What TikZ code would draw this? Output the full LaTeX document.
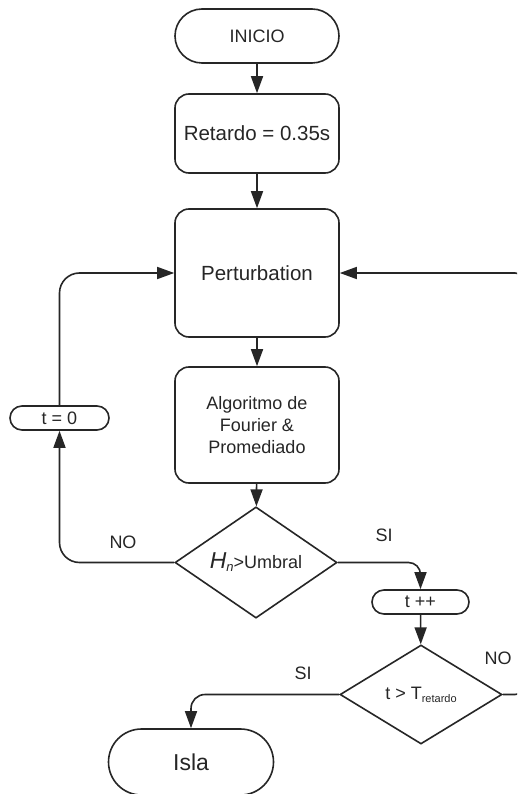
\documentclass[tikz,border=0pt]{standalone}
\usepackage{fontspec}
\setmainfont{Liberation Sans}
\usetikzlibrary{shapes.geometric,shapes.misc,arrows.meta}
\definecolor{ink}{HTML}{262626}
\begin{document}
\begin{tikzpicture}[x=1pt,y=-1pt,line width=1.6pt,
  every node/.style={text=ink},
  box/.style={draw=ink, rounded corners=14pt, minimum width=164pt, inner sep=0pt, align=center, font=\fontsize{20.5}{24}\selectfont},
  term/.style={draw=ink, rounded rectangle, inner sep=0pt, font=\fontsize{18}{22}\selectfont},
  dia/.style={draw=ink, diamond, minimum width=162pt, minimum height=99pt, inner sep=0pt, font=\fontsize{18}{22}\selectfont},
  lbl/.style={font=\fontsize{18}{22}\selectfont},
  arr/.style={draw=ink, -{Triangle[length=17pt,width=12pt]}}]
\clip (0,0) rectangle (517,794);
\fill[white] (0,0) rectangle (517,794);
% nodes
\node[term, minimum width=164pt, minimum height=54pt] (ini) at (257,36) {INICIO};
\node[box, minimum height=79pt] (ret) at (257,133.5) {Retardo = 0.35s};
\node[box, minimum height=128pt] (per) at (257,273) {Perturbation};
\node[box, minimum height=116pt, font=\fontsize{18}{22}\selectfont] (alg) at (257,425) {Algoritmo de\\Fourier \&\\Promediado};
\node[dia] (d1) at (256,562.5) {{\fontsize{23}{23}\selectfont\itshape H}\raisebox{-3pt}{\fontsize{13}{13}\selectfont\itshape n}>Umbral};
\node[term, minimum width=99pt, minimum height=24pt] (t0) at (59.5,418) {t = 0};
\node[term, minimum width=97pt, minimum height=24pt] (tpp) at (420.5,602) {t ++};
\node[dia] (d2) at (421,694.5) {t > T\raisebox{-3pt}{\fontsize{11}{11}\selectfont retardo}};
\node[term, minimum width=165pt, minimum height=66pt, font=\fontsize{23}{26}\selectfont] (isla) at (191,762) {Isla};
% labels
\node[lbl] (no1) at (123,542) {NO};
\node[lbl] (si1) at (384,535) {SI};
\node[lbl] (no2) at (498,658) {NO};
\node[lbl] (si2) at (303,673) {SI};
% connectors
\draw[arr] (ini) -- (ret);
\draw[arr] (ret) -- (per);
\draw[arr] (per) -- (alg);
\draw[arr] (alg) -- (d1);
\draw[arr, rounded corners=20pt] (d1.west) -| (t0.south);
\draw[arr, rounded corners=20pt] (t0.north) |- (per.west);
\draw[arr, rounded corners=12pt] (d1.east) -| (tpp.north);
\draw[arr] (tpp) -- (d2);
\draw[arr, rounded corners=14pt] (d2.west) -| (isla.north);
\coordinate (rr) at (527,0);
\draw[arr, rounded corners=12pt] (d2.east) -- (rr |- d2.east) -- (rr |- per.east) -- (per.east);
\end{tikzpicture}
\end{document}
